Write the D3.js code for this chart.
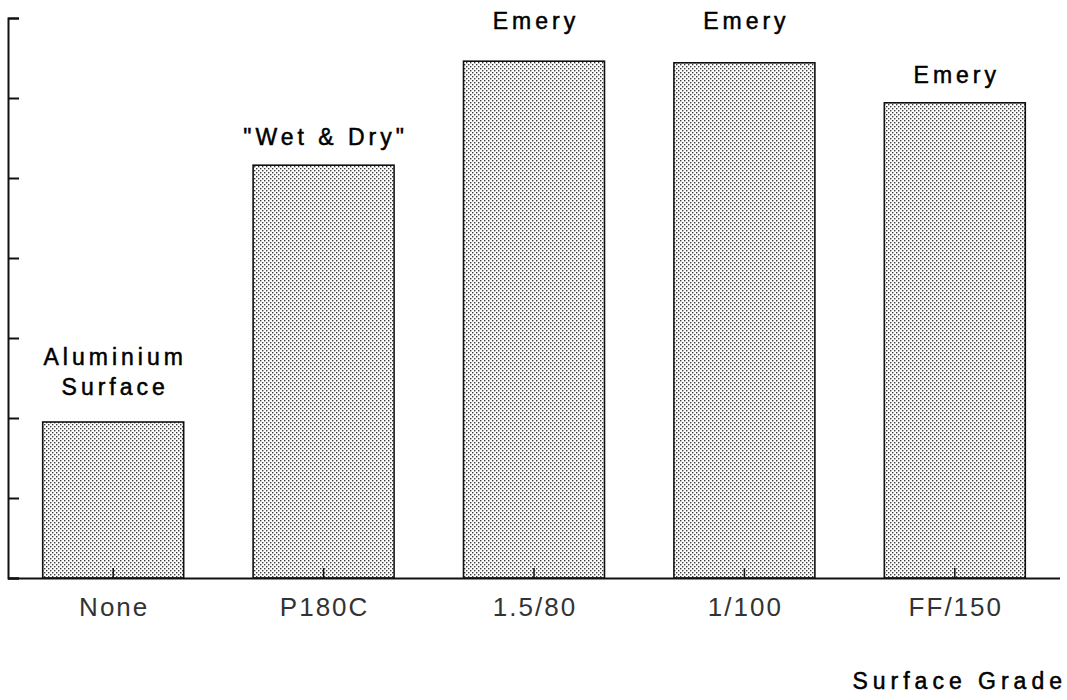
<!DOCTYPE html>
<html>
<head>
<meta charset="utf-8">
<script src="https://cdn.jsdelivr.net/npm/d3@7"></script>
<style>
  html, body { margin: 0; padding: 0; background: #fff; }
  svg { display: block; }
</style>
</head>
<body>
<svg id="chart" width="1067" height="700"></svg>
<script>
// ---- data ----
const categories = ["None", "P180C", "1.5/80", "1/100", "FF/150"];
const values = [1.95, 5.16, 6.46, 6.44, 5.94];
const annotations = [["Aluminium", "Surface"], ["\"Wet & Dry\""], ["Emery"], ["Emery"], ["Emery"]];
const yTicks = [0, 1, 2, 3, 4, 5, 6, 7];
const xTitle = "Surface Grade";

// ---- layout ----
const svg = d3.select("#chart");
const plotLeft = 8, plotRight = 1060, plotTop = 18, plotBottom = 578;

const x = d3.scaleBand().domain(categories).range([plotLeft, plotRight])
  .paddingInner(0.33).paddingOuter(0.165);
const y = d3.scaleLinear().domain([0, 7]).range([plotBottom, plotTop]);

// stipple pattern
const defs = svg.append("defs");
const pat = defs.append("pattern").attr("id", "stipple")
  .attr("patternUnits", "userSpaceOnUse").attr("width", 4).attr("height", 4);
pat.append("rect").attr("width", 4).attr("height", 4).attr("fill", "#ffffff");
pat.append("rect").attr("x", 0).attr("y", 0).attr("width", 1.4).attr("height", 1.4).attr("fill", "#3a3a3a");
pat.append("rect").attr("x", 2).attr("y", 2).attr("width", 1.4).attr("height", 1.4).attr("fill", "#3a3a3a");

// bars
svg.append("g").selectAll("rect").data(categories).join("rect")
  .attr("x", d => x(d))
  .attr("y", (d, i) => y(values[i]))
  .attr("width", x.bandwidth())
  .attr("height", (d, i) => y(0) - y(values[i]))
  .attr("fill", "url(#stipple)")
  .attr("stroke", "#111")
  .attr("stroke-width", 1.6);

// y axis (inward ticks, no labels)
const yAxis = svg.append("g").attr("transform", `translate(${plotLeft},0)`)
  .call(d3.axisLeft(y).tickValues(yTicks).tickSize(-11).tickSizeOuter(-11).tickFormat(""));
yAxis.selectAll("path, line").attr("stroke", "#111").attr("stroke-width", 2);

// x axis
const xAxis = svg.append("g").attr("transform", `translate(0,${plotBottom})`)
  .call(d3.axisBottom(x).tickSize(-10).tickSizeOuter(0).tickPadding(20));
xAxis.select(".domain").attr("stroke", "#111").attr("stroke-width", 2)
  .attr("d", `M${plotLeft},0.5H${plotRight}`);
xAxis.selectAll(".tick line").attr("stroke", "#111").attr("stroke-width", 1.5);
xAxis.selectAll(".tick text")
  .attr("font-family", "'Liberation Sans', Arial, sans-serif")
  .attr("font-size", 26)
  .attr("letter-spacing", "2px")
  .attr("dx", 1)
  .attr("fill", "#333");

// annotations above bars
const annFont = "'Liberation Sans', Arial, sans-serif";
categories.forEach((c, i) => {
  const lines = annotations[i];
  const cx = x(c) + x.bandwidth() / 2;
  const topY = y(values[i]);
  let baselines;
  if (i === 0) baselines = [topY - 57, topY - 27];
  else baselines = [topY - 20 - (lines.length - 1) * 30];
  if (i === 2 || i === 3) baselines = [29];
  lines.forEach((t, k) => {
    svg.append("text")
      .attr("x", cx + 2)
      .attr("y", baselines[k])
      .attr("text-anchor", "middle")
      .attr("font-family", annFont)
      .attr("font-size", 23)
      .attr("letter-spacing", "4px")
      .attr("stroke", "#000").attr("stroke-width", 0.5)
      .attr("fill", "#000")
      .text(t);
  });
});

// x title
svg.append("text")
  .attr("x", 1067).attr("y", 689)
  .attr("text-anchor", "end")
  .attr("font-family", annFont)
  .attr("font-size", 23)
  .attr("letter-spacing", "5px")
  .attr("stroke", "#000").attr("stroke-width", 0.5)
  .attr("fill", "#000")
  .text(xTitle);
</script>
</body>
</html>
